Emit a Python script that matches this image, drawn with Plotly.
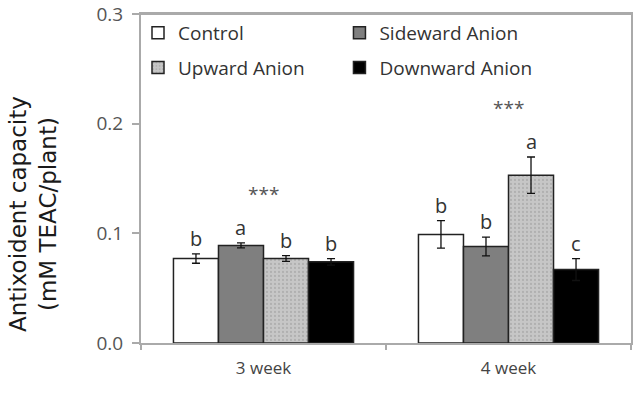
import plotly.graph_objects as go

categories = ["3 week", "4 week"]
series_names = ["Control", "Sideward Anion", "Upward Anion", "Downward Anion"]
values = {
    "Control": [0.077, 0.099],
    "Sideward Anion": [0.089, 0.088],
    "Upward Anion": [0.077, 0.153],
    "Downward Anion": [0.074, 0.067],
}
errors = {
    "Control": [0.0043, 0.0125],
    "Sideward Anion": [0.0023, 0.0086],
    "Upward Anion": [0.0026, 0.0166],
    "Downward Anion": [0.0030, 0.0100],
}
letters = {
    "Control": ["b", "b"],
    "Sideward Anion": ["a", "b"],
    "Upward Anion": ["b", "a"],
    "Downward Anion": ["b", "c"],
}
stars = ["***", "***"]
star_y = [0.136, 0.214]
y_ticks = [0.0, 0.1, 0.2, 0.3]

colors = {
    "Control": "#ffffff",
    "Sideward Anion": "#7f7f7f",
    "Upward Anion": "#c6c6c6",
    "Downward Anion": "#000000",
}
legend_of = {
    "Control": "legend",
    "Upward Anion": "legend",
    "Sideward Anion": "legend2",
    "Downward Anion": "legend2",
}

FONT = "Open Sans"
W, H = 641, 394
ML, MR, MT, MB = 141, 10, 14, 51
plot_w = W - ML - MR
plot_h = H - MT - MB
bargap = 0.265
bar_px = plot_w / len(categories) * (1 - bargap) / len(series_names)

fig = go.Figure()
for name in series_names:
    marker = dict(color=colors[name], line=dict(color="#222222", width=1.5))
    if name == "Upward Anion":
        marker["pattern"] = dict(shape=".", fgcolor="#9a9a9a", size=4, solidity=0.25)
    fig.add_trace(go.Bar(
        name=name, x=categories, y=values[name],
        marker=marker,
        error_y=dict(type="data", array=errors[name], color="#111111", thickness=1.3, width=4),
        legend=legend_of[name], legendgroup=name,
    ))

annotations = []
for i, name in enumerate(series_names):
    shift = (i - (len(series_names) - 1) / 2) * bar_px
    for j, cat in enumerate(categories):
        annotations.append(dict(
            x=cat, y=values[name][j] + errors[name][j], xref="x", yref="y",
            text=letters[name][j], showarrow=False, xshift=shift, yshift=0,
            yanchor="bottom", font=dict(family=FONT, size=20, color="#333333"),
        ))
for j, cat in enumerate(categories):
    annotations.append(dict(
        x=cat, y=star_y[j], xref="x", yref="y", text=stars[j], showarrow=False,
        font=dict(family=FONT, size=19, color="#555555"),
    ))
annotations.append(dict(
    x=(33 - ML) / plot_w, y=(H - MB - 214) / plot_h, xref="paper", yref="paper",
    xanchor="center", yanchor="middle",
    text="Antixoident capacity<br>(mM TEAC/plant)",
    showarrow=False, textangle=-90, font=dict(family="DejaVu Sans", size=23, color="#1a1a1a"),
))

legend_font = dict(family=FONT, size=19, color="#333333")
fig.update_layout(
    width=W, height=H,
    margin=dict(l=ML, r=MR, t=MT, b=MB, autoexpand=False),
    paper_bgcolor="white", plot_bgcolor="white",
    barmode="group", bargap=bargap, bargroupgap=0,
    font=dict(family=FONT, color="#444444"),
    annotations=annotations,
    shapes=[dict(type="line", xref="paper", yref="paper", x0=0, x1=1, y0=1, y1=1,
                 line=dict(color="#aaaaaa", width=2))],
    legend=dict(x=-3 / plot_w, y=1.0, xanchor="left", yanchor="top", font=legend_font,
                bgcolor="rgba(0,0,0,0)", traceorder="grouped", tracegroupgap=7),
    legend2=dict(x=0.405, y=1.0, xanchor="left", yanchor="top", font=legend_font,
                 bgcolor="rgba(0,0,0,0)", traceorder="grouped", tracegroupgap=7),
    showlegend=True,
)
fig.update_yaxes(
    range=[0, 0.3], tickvals=y_ticks, tickformat=".1f",
    automargin=False, ticklabeloverflow="allow",
    showline=True, linecolor="#aaaaaa", linewidth=2, mirror=True,
    ticks="outside", ticklen=7, tickcolor="#aaaaaa", tickwidth=1.5,
    ticklabelstandoff=5,
    showgrid=False, zeroline=False,
    tickfont=dict(family=FONT, size=19, color="#555555"),
)
fig.update_xaxes(
    automargin=False,
    showline=True, linecolor="#aaaaaa", linewidth=2, mirror=True,
    ticks="outside", tickson="boundaries", ticklen=5, tickcolor="#aaaaaa", tickwidth=1.5,
    ticklabelstandoff=9,
    showgrid=False,
    tickfont=dict(family=FONT, size=17, color="#444444"),
)
fig.write_html("out.html")
